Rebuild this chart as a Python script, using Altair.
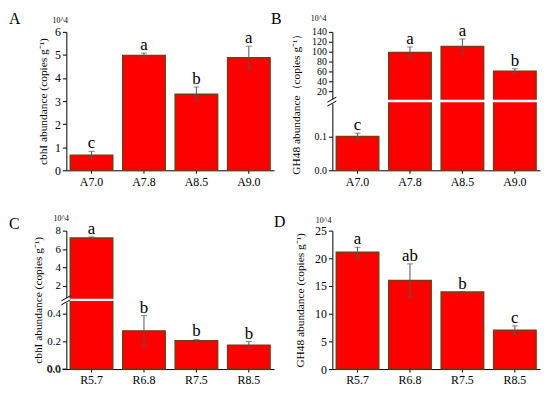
import altair as alt
import pandas as pd

# ---------------- data ----------------
cats_A = ["A7.0", "A7.8", "A8.5", "A9.0"]
cats_R = ["R5.7", "R6.8", "R7.5", "R8.5"]

cbhI_A = [0.65, 4.98, 3.3, 4.88]
cbhI_A_err = [0.17, 0.1, 0.31, 0.5]
cbhI_A_sig = ["c", "a", "b", "a"]

gh48_A = [0.10, 98.5, 110.5, 60.5]
gh48_A_err = [0.01, 11.0, 15.0, 5.0]
gh48_A_sig = ["c", "a", "a", "b"]

cbhI_R = [7.2, 0.276, 0.204, 0.172]
cbhI_R_err = [0.12, 0.11, 0.01, 0.027]
cbhI_R_sig = ["a", "b", "b", "b"]

gh48_R = [21.1, 16.0, 13.9, 7.0]
gh48_R_err = [0.9, 3.0, 0.1, 0.8]
gh48_R_sig = ["a", "ab", "b", "c"]

yticks_A = [0, 1, 2, 3, 4, 5, 6]
yticks_B = [0, 0.1, 20, 40, 60, 80, 100, 120, 140]
yticks_C = [0, 0.2, 0.4, 2, 4, 6, 8]
yticks_D = [0, 5, 10, 15, 20, 25]

unit_label = "10^4"

# ---------------- style ----------------
W, H = 210, 140
FONT = "Liberation Serif"
BAR_FILL = "#ff0000"
BAR_EDGE = "#7a3a12"
ERR_COL = "#555555"

DEC_EXPR = ("datum.value == 0 ? '0.0' : (datum.value < 1 ? format(datum.value, '.1f') "
            ": format(datum.value, 'd'))")
INT_EXPR = "format(datum.value, 'd')"


def panel(letter, cats, vals, errs, sigs, ticks, title, scale,
          brk=None, title_x=-20, unit_x=-14, unit_y=-11, unit_align="left",
          letter_x=-58, letter_y=-21, label_expr=INT_EXPR, ylabel_size=12,
          base_label=None):
    df = pd.DataFrame({"cat": cats, "val": vals, "err": errs, "sig": sigs})
    df["lo"] = df["val"] - df["err"]
    df["hi"] = df["val"] + df["err"]
    base = alt.Chart(df)

    xscale = alt.Scale(paddingInner=0.19, paddingOuter=0.075)
    xaxis = alt.Axis(title=None, labelAngle=0, tickSize=3, labelPadding=3,
                     labelFontSize=12)
    x_enc = alt.X("cat:N", sort=cats, scale=xscale, axis=xaxis)

    yaxis = alt.Axis(values=ticks, tickCount=50, title=title, titleX=title_x,
                     titleY=H / 2, tickSize=4, labelPadding=2, labelOverlap=False,
                     labelFontSize=ylabel_size, labelExpr=label_expr)

    def yenc(field):
        return alt.Y(field, scale=scale, axis=yaxis, title=title)

    bars = base.mark_bar(fill=BAR_FILL, stroke=BAR_EDGE, strokeWidth=1.5).encode(
        x=x_enc, y=yenc("val:Q"))

    layers = [bars]

    one = pd.DataFrame({"k": [0]})
    if brk is not None:
        gap = alt.Chart(one).mark_rule(color="white", strokeWidth=2.5).encode(
            y=alt.datum(brk), x=alt.value(1), x2=alt.value(W))
        axis_gap = alt.Chart(one).mark_rule(color="white", strokeWidth=3).encode(
            x=alt.value(0), y=alt.value(H / 2 - 2), y2=alt.value(H / 2 + 3))
        slash1 = alt.Chart(one).mark_rule(color="black", strokeWidth=1).encode(
            x=alt.value(-5), x2=alt.value(4), y=alt.value(H / 2 + 1), y2=alt.value(H / 2 - 4))
        slash2 = alt.Chart(one).mark_rule(color="black", strokeWidth=1).encode(
            x=alt.value(-5), x2=alt.value(4), y=alt.value(H / 2 + 5), y2=alt.value(H / 2))
        layers += [gap, axis_gap, slash1, slash2]

    err_rule = base.mark_rule(color=ERR_COL, strokeWidth=1).encode(
        x=x_enc, y=yenc("lo:Q"), y2="hi:Q")
    cap_hi = base.mark_tick(color=ERR_COL, size=6, thickness=1).encode(
        x=x_enc, y=yenc("hi:Q"))
    cap_lo = base.mark_tick(color=ERR_COL, size=6, thickness=1).encode(
        x=x_enc, y=yenc("lo:Q"))
    sig = base.mark_text(font=FONT, fontSize=17, baseline="alphabetic", dy=-3,
                         color="black").encode(
        x=x_enc, y=yenc("hi:Q"), text="sig:N")
    layers += [err_rule, cap_hi, cap_lo, sig]

    if base_label is not None:
        # baseline tick label drawn at the bottom edge of the plot
        bl = alt.Chart(pd.DataFrame({"t": [base_label]})).mark_text(
            font=FONT, fontSize=ylabel_size, align="right", baseline="middle",
            color="black").encode(
            x=alt.value(-6), y=alt.value(H), text="t:N")
        bt = alt.Chart(one).mark_rule(color="black", strokeWidth=1).encode(
            x=alt.value(-4), x2=alt.value(0), y=alt.value(H))
        layers += [bl, bt]

    unit = alt.Chart(pd.DataFrame({"t": [unit_label]})).mark_text(
        font=FONT, fontSize=8, align=unit_align, baseline="middle", color="black").encode(
        x=alt.value(unit_x), y=alt.value(unit_y), text="t:N")
    lab = alt.Chart(pd.DataFrame({"t": [letter]})).mark_text(
        font=FONT, fontSize=16, align="left", baseline="top", color="black").encode(
        x=alt.value(letter_x), y=alt.value(letter_y), text="t:N")
    layers += [unit, lab]

    return alt.layer(*layers).properties(width=W, height=H)


pA = panel("A", cats_A, cbhI_A, cbhI_A_err, cbhI_A_sig, yticks_A,
           "cbhI abundance (copies g\u207b\u00b9)",
           alt.Scale(domain=[0, 6], nice=False, zero=True),
           title_x=-18, unit_x=-14, unit_y=-11, letter_x=-58, letter_y=-21)

pB = panel("B", cats_A, gh48_A, gh48_A_err, gh48_A_sig, yticks_B,
           "GH48 abundance\uff08copies g\u207b\u00b9\uff09",
           alt.Scale(domain=[0, 0.205, 140], range=[H, H / 2, 0], nice=False, zero=False),
           brk=0.205, title_x=-31, unit_x=-6, unit_y=-13, unit_align="right",
           letter_x=-62, letter_y=-21, label_expr=DEC_EXPR, ylabel_size=10)

pC = panel("C", cats_R, cbhI_R, cbhI_R_err, cbhI_R_sig, yticks_C,
           "cbhI abundance (copies g\u207b\u00b9)",
           alt.Scale(domain=[0, 0.5, 8], range=[H, H / 2, 0], nice=False, zero=False),
           brk=0.5, title_x=-23, unit_x=-13, unit_y=-12, letter_x=-58, letter_y=-15,
           label_expr=DEC_EXPR, ylabel_size=11, base_label="0.0")

pD = panel("D", cats_R, gh48_R, gh48_R_err, gh48_R_sig, yticks_D,
           "GH48 abundance (copies g\u207b\u00b9)",
           alt.Scale(domain=[0, 25], nice=False, zero=True),
           title_x=-27, unit_x=-1, unit_y=-10, unit_align="right",
           letter_x=-59, letter_y=-17)

chart = alt.concat(pA, pB, pC, pD, columns=2,
                   spacing={"row": 61, "column": 59}, bounds="flush").properties(
    padding=0
).configure_view(stroke="transparent").configure_axis(
    labelFont=FONT, titleFont=FONT, labelFontSize=11, titleFontSize=11.5,
    titleFontWeight="normal", labelColor="black", titleColor="black",
    domainColor="black", tickColor="black", grid=False, domainWidth=1, tickWidth=1
)

chart.save("out.html", embed_options={"renderer": "svg", "actions": False})
